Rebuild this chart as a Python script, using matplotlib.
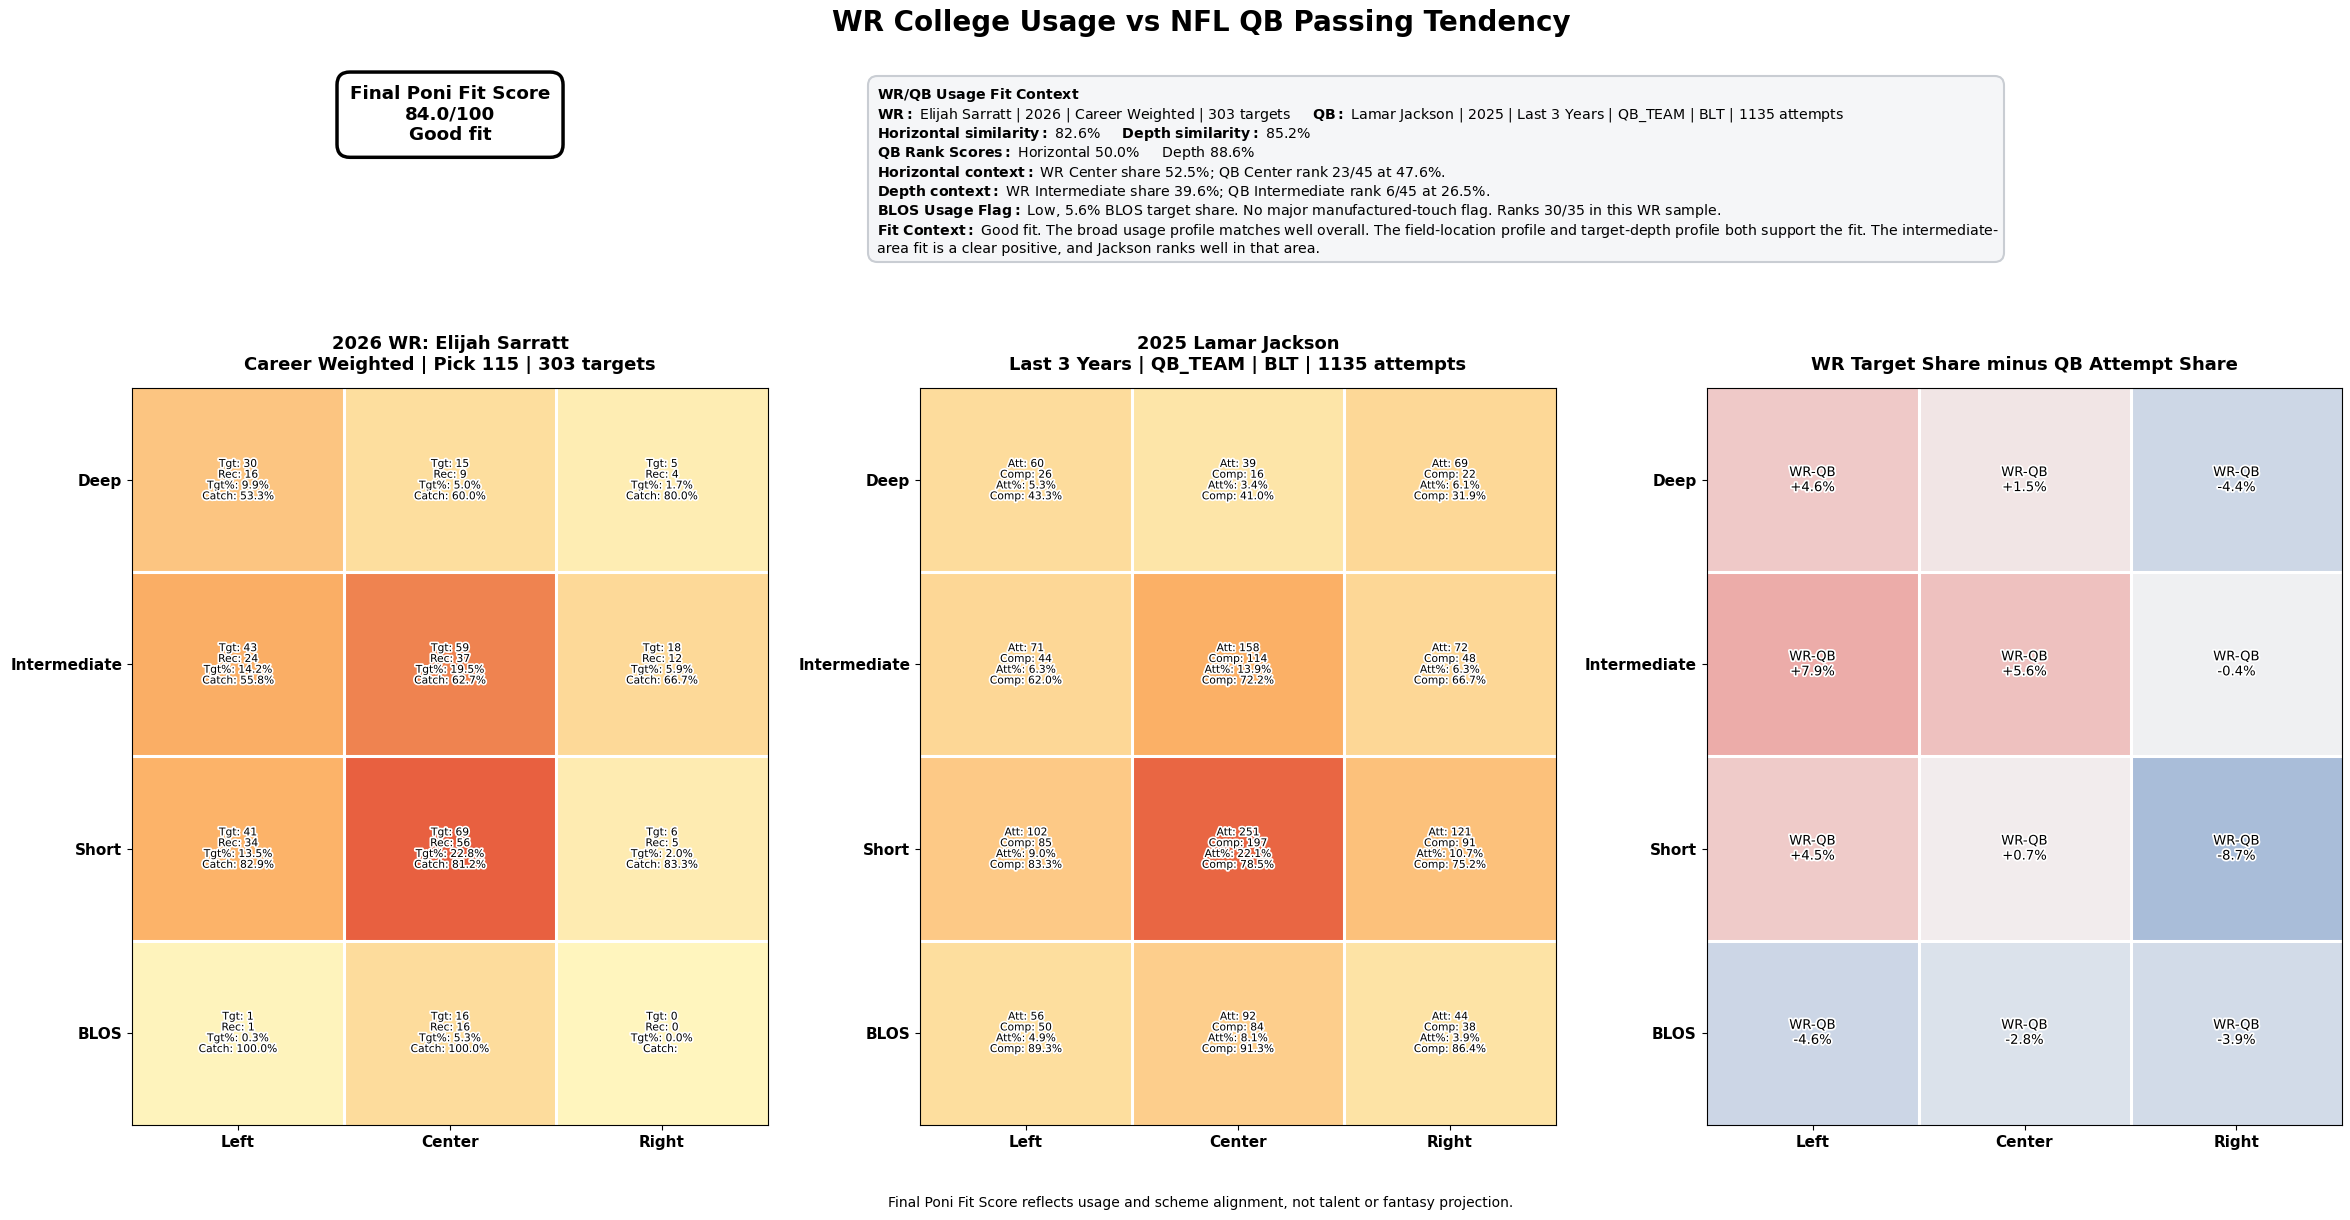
import numpy as np
import matplotlib
matplotlib.use("Agg")
import matplotlib.pyplot as plt
import matplotlib.patheffects as pe
from matplotlib.colors import Normalize, LinearSegmentedColormap
from matplotlib.patches import FancyBboxPatch

depths = ["Deep", "Intermediate", "Short", "BLOS"]
sides = ["Left", "Center", "Right"]

# WR college usage (rows = depth, cols = side)
wr_tgt = [[30, 15, 5], [43, 59, 18], [41, 69, 6], [1, 16, 0]]
wr_rec = [[16, 9, 4], [24, 37, 12], [34, 56, 5], [1, 16, 0]]
wr_tgt_pct = [[9.9, 5.0, 1.7], [14.2, 19.5, 5.9], [13.5, 22.8, 2.0], [0.3, 5.3, 0.0]]
wr_catch = [[53.3, 60.0, 80.0], [55.8, 62.7, 66.7], [82.9, 81.2, 83.3], [100.0, 100.0, None]]

# QB passing tendency
qb_att = [[60, 39, 69], [71, 158, 72], [102, 251, 121], [56, 92, 44]]
qb_comp = [[26, 16, 22], [44, 114, 48], [85, 197, 91], [50, 84, 38]]
qb_att_pct = [[5.3, 3.4, 6.1], [6.3, 13.9, 6.3], [9.0, 22.1, 10.7], [4.9, 8.1, 3.9]]
qb_comp_pct = [[43.3, 41.0, 31.9], [62.0, 72.2, 66.7], [83.3, 78.5, 75.2], [89.3, 91.3, 86.4]]

# WR target share minus QB attempt share
diff = [[4.6, 1.5, -4.4], [7.9, 5.6, -0.4], [4.5, 0.7, -8.7], [-4.6, -2.8, -3.9]]

fit_score = 84.0
fit_label = "Good fit"

context_lines = [
    r"$\bf{WR/QB\ Usage\ Fit\ Context}$",
    r"$\bf{WR:}$ Elijah Sarratt | 2026 | Career Weighted | 303 targets     $\bf{QB:}$ Lamar Jackson | 2025 | Last 3 Years | QB_TEAM | BLT | 1135 attempts",
    r"$\bf{Horizontal\ similarity:}$ 82.6%     $\bf{Depth\ similarity:}$ 85.2%",
    r"$\bf{QB\ Rank\ Scores:}$ Horizontal 50.0%     Depth 88.6%",
    r"$\bf{Horizontal\ context:}$ WR Center share 52.5%; QB Center rank 23/45 at 47.6%.",
    r"$\bf{Depth\ context:}$ WR Intermediate share 39.6%; QB Intermediate rank 6/45 at 26.5%.",
    r"$\bf{BLOS\ Usage\ Flag:}$ Low, 5.6% BLOS target share. No major manufactured-touch flag. Ranks 30/35 in this WR sample.",
    r"$\bf{Fit\ Context:}$ Good fit. The broad usage profile matches well overall. The field-location profile and target-depth profile both support the fit. The intermediate-",
    "area fit is a clear positive, and Jackson ranks well in that area.",
]

W, H = 23.5, 12.2
fig = plt.figure(figsize=(W, H), dpi=100)

share_cmap = LinearSegmentedColormap.from_list(
    "share",
    [(0.0, "#fff5be"), (0.22, "#fdde9e"), (0.43, "#fdc682"),
     (0.6, "#fcb368"), (0.86, "#ef8350"), (1.0, "#e86040")])
share_max = max(max(max(r) for r in wr_tgt_pct), max(max(r) for r in qb_att_pct))
share_norm = Normalize(vmin=0, vmax=share_max)

diff_cmap = LinearSegmentedColormap.from_list("diff", ["#4b79b8", "#f3f3f4", "#e34137"])
diff_norm = Normalize(vmin=-20, vmax=20)

stroke = [pe.withStroke(linewidth=2.5, foreground="white")]


def draw_grid(ax, values, cmap, norm, title):
    ax.imshow(np.array(values, dtype=float), cmap=cmap, norm=norm, aspect="auto")
    for k in range(1, len(depths)):
        ax.axhline(k - 0.5, color="white", lw=2.2)
    for k in range(1, len(sides)):
        ax.axvline(k - 0.5, color="white", lw=2.2)
    ax.set_xticks(range(len(sides)))
    ax.set_xticklabels(sides, fontsize=11, fontweight="bold")
    ax.set_yticks(range(len(depths)))
    ax.set_yticklabels(depths, fontsize=11, fontweight="bold")
    ax.set_title(title, fontsize=13, fontweight="bold", pad=13)


ax1 = fig.add_axes([0.0562, 0.0779, 0.2706, 0.6041])
ax2 = fig.add_axes([0.3915, 0.0779, 0.2706, 0.6041])
ax3 = fig.add_axes([0.7262, 0.0779, 0.2706, 0.6041])

draw_grid(ax1, wr_tgt_pct, share_cmap, share_norm,
          "2026 WR: Elijah Sarratt\nCareer Weighted | Pick 115 | 303 targets")
draw_grid(ax2, qb_att_pct, share_cmap, share_norm,
          "2025 Lamar Jackson\nLast 3 Years | QB_TEAM | BLT | 1135 attempts")
draw_grid(ax3, diff, diff_cmap, diff_norm,
          "WR Target Share minus QB Attempt Share")

for i in range(len(depths)):
    for j in range(len(sides)):
        c = wr_catch[i][j]
        catch_txt = f"{c:.1f}%" if c is not None else ""
        ax1.text(j, i, f"Tgt: {wr_tgt[i][j]}\nRec: {wr_rec[i][j]}\nTgt%: {wr_tgt_pct[i][j]:.1f}%\nCatch: {catch_txt}",
                 ha="center", va="center", fontsize=7.7, linespacing=1.1, path_effects=stroke)
        ax2.text(j, i, f"Att: {qb_att[i][j]}\nComp: {qb_comp[i][j]}\nAtt%: {qb_att_pct[i][j]:.1f}%\nComp: {qb_comp_pct[i][j]:.1f}%",
                 ha="center", va="center", fontsize=7.7, linespacing=1.1, path_effects=stroke)
        ax3.text(j, i, f"WR-QB\n{diff[i][j]:+.1f}%",
                 ha="center", va="center", fontsize=9.5, path_effects=stroke)

fig.text(0.511, 0.981, "WR College Usage vs NFL QB Passing Tendency",
         ha="center", va="center", fontsize=20, fontweight="bold")

fig.text(0.1915, 0.906, f"Final Poni Fit Score\n{fit_score:.1f}/100\n{fit_label}",
         ha="center", va="center", fontsize=13.2, fontweight="bold",
         bbox=dict(boxstyle="round,pad=0.7", facecolor="white", edgecolor="black", linewidth=2.5))

# context panel
box_x0, box_x1 = 868 / 2350, 2004 / 2350
box_y0, box_y1 = 1 - 262 / 1220, 1 - 76 / 1220
fig.patches.append(FancyBboxPatch(
    (box_x0, box_y0), box_x1 - box_x0, box_y1 - box_y0,
    boxstyle="round,pad=0,rounding_size=0.004", mutation_aspect=W / H,
    transform=fig.transFigure, facecolor="#f5f6f8", edgecolor="#c9cdd3", linewidth=1.5))
line_top = 1 - 93 / 1220
line_step = 19.3 / 1220
for k, line in enumerate(context_lines):
    fig.text(0.3732, line_top - k * line_step, line, ha="left", va="center_baseline", fontsize=10.2)

fig.text(0.511, 0.014, "Final Poni Fit Score reflects usage and scheme alignment, not talent or fantasy projection.",
         ha="center", va="center", fontsize=10)

fig.savefig("out.png", dpi=100)
